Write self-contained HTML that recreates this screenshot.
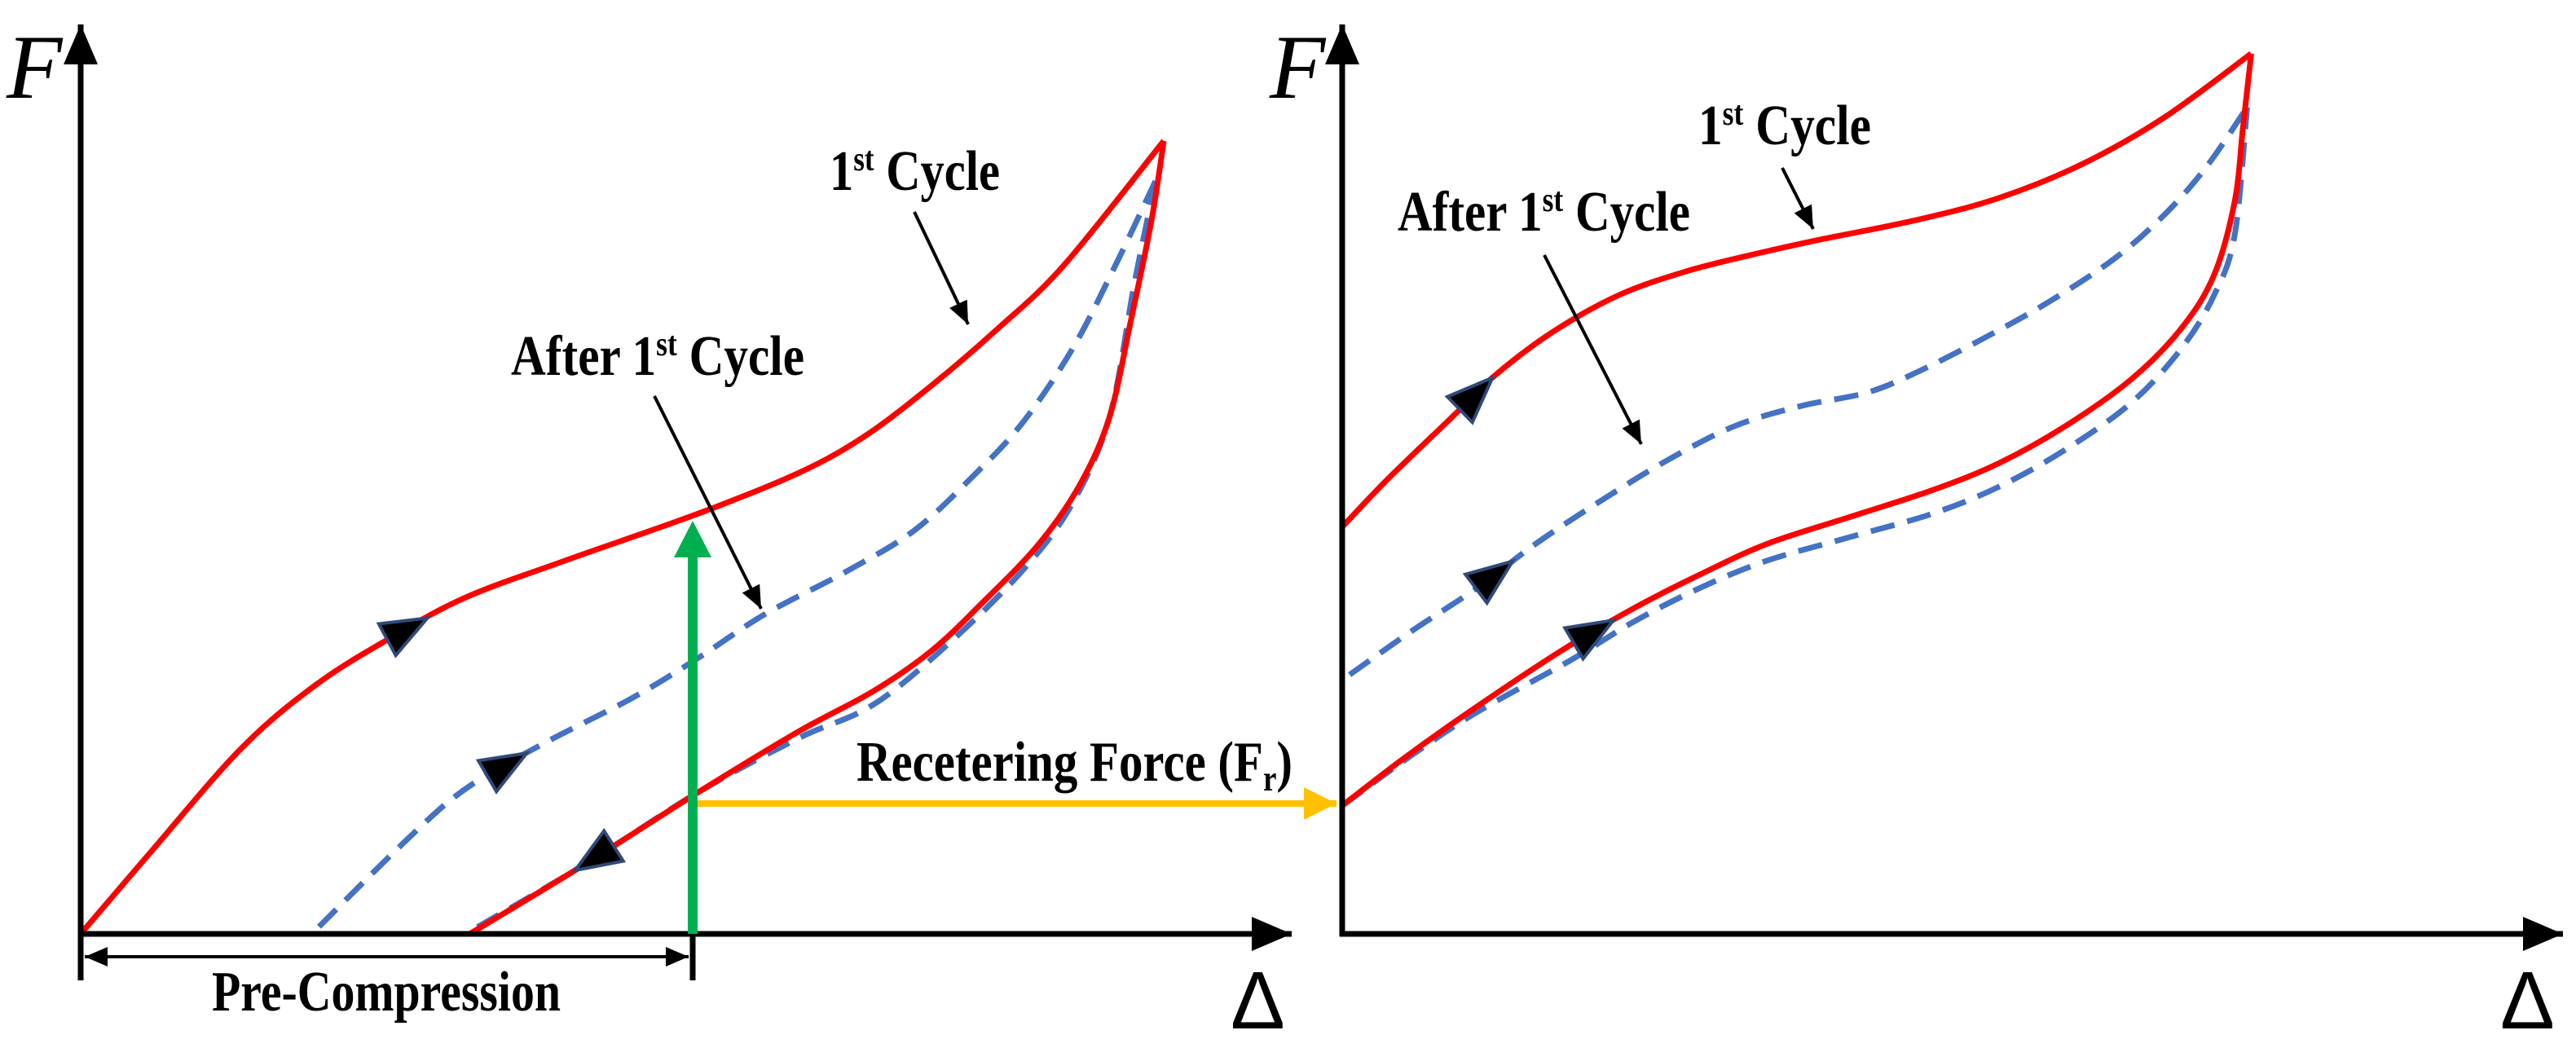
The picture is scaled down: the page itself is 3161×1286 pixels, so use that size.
<!DOCTYPE html>
<html><head><meta charset="utf-8"><style>
html,body{margin:0;padding:0;background:#fff;}
svg{display:block;}
text{font-family:"Liberation Serif",serif;font-weight:bold;fill:#000;}
</style></head><body>
<svg id="chart" width="3161" height="1286" viewBox="0 0 3161 1286" xmlns="http://www.w3.org/2000/svg">
<defs>
<marker id="ah" markerWidth="8" markerHeight="8" refX="7" refY="4" orient="auto" markerUnits="strokeWidth"><path d="M0,1 L7,4 L0,7 Z" fill="#000"/></marker>
<marker id="ahs" markerWidth="8" markerHeight="8" refX="1" refY="4" orient="auto" markerUnits="strokeWidth"><path d="M8,1 L1,4 L8,7 Z" fill="#000"/></marker>
<marker id="aho" markerWidth="5" markerHeight="5" refX="5" refY="2.5" orient="auto" markerUnits="strokeWidth"><path d="M0,0 L5,2.5 L0,5 Z" fill="#FFC000"/></marker>
</defs>
<g id="curves"></g>
<line x1="99" y1="1203" x2="99" y2="30" stroke="#000" stroke-width="7" marker-end="url(#ah)"/>
<line x1="96" y1="1146" x2="1585" y2="1146" stroke="#000" stroke-width="7" marker-end="url(#ah)"/>
<line x1="1647" y1="1149" x2="1647" y2="30" stroke="#000" stroke-width="7" marker-end="url(#ah)"/>
<line x1="1644" y1="1146" x2="3145" y2="1146" stroke="#000" stroke-width="7" marker-end="url(#ah)"/>
<text x="8" y="120" font-size="112" font-style="italic" style="font-weight:normal">F</text>
<text x="1558" y="120" font-size="112" font-style="italic" style="font-weight:normal">F</text>
<text x="1510" y="1262" font-size="100" style="font-family:'Liberation Sans',sans-serif;font-weight:normal">Δ</text>
<text x="3068" y="1262" font-size="100" style="font-family:'Liberation Sans',sans-serif;font-weight:normal">Δ</text>
<line x1="850" y1="1146" x2="850" y2="1203" stroke="#000" stroke-width="7"/>
<line x1="104" y1="1174" x2="845" y2="1174" stroke="#000" stroke-width="4" marker-end="url(#ah)" marker-start="url(#ahs)"/>
<text x="260" y="1240" font-size="70" textLength="428" lengthAdjust="spacingAndGlyphs">Pre-Compression</text>
<line x1="852" y1="986" x2="1640" y2="986" stroke="#FFC000" stroke-width="8" marker-end="url(#aho)"/>
<text x="1051" y="958" font-size="70" textLength="535" lengthAdjust="spacingAndGlyphs">Recetering Force (F<tspan font-size="44" dy="12">r</tspan><tspan dy="-12">)</tspan></text>
<line x1="850" y1="1146" x2="850" y2="680" stroke="#00B050" stroke-width="12"/>
<polygon points="850,639 827,684 873,684" fill="#00B050"/>
<text x="1018" y="233" font-size="70" textLength="209" lengthAdjust="spacingAndGlyphs">1<tspan font-size="42" dy="-24">st</tspan><tspan dy="24"> Cycle</tspan></text>
<line x1="1122" y1="260" x2="1188" y2="398" stroke="#000" stroke-width="4" marker-end="url(#ah)"/>
<text x="627" y="460" font-size="70" textLength="360" lengthAdjust="spacingAndGlyphs">After 1<tspan font-size="42" dy="-24">st</tspan><tspan dy="24"> Cycle</tspan></text>
<line x1="803" y1="486" x2="934" y2="747" stroke="#000" stroke-width="4" marker-end="url(#ah)"/>
<text x="2084" y="177" font-size="70" textLength="212" lengthAdjust="spacingAndGlyphs">1<tspan font-size="42" dy="-24">st</tspan><tspan dy="24"> Cycle</tspan></text>
<line x1="2187" y1="206" x2="2225" y2="281" stroke="#000" stroke-width="4" marker-end="url(#ah)"/>
<text x="1715" y="283" font-size="70" textLength="359" lengthAdjust="spacingAndGlyphs">After 1<tspan font-size="42" dy="-24">st</tspan><tspan dy="24"> Cycle</tspan></text>
<line x1="1895" y1="313" x2="2014" y2="545" stroke="#000" stroke-width="4" marker-end="url(#ah)"/>
</svg>
<script>
const leftRedUpD=[0,83,193,283,373,463,583,743,863,943,1023,1103,1183,1303];
const leftRedUpF=[0,120,276,371,441,501,556,626,686,741,816,901,996,1181];
const leftRedLowD=[1303,1288,1263,1238,1203,1153,1083,1023,953,863,743,603,468];
const leftRedLowF=[1181,1061,911,771,671,581,491,421,361,301,211,101,0];
const leftBlueUpD=[1293,1243,1193,1133,1073,1003,923,823,743,663,553,463,393,278];
const leftBlueUpF=[1121,991,871,761,681,601,541,476,411,351,281,216,141,0];
const leftBlueLowD=[1293,1268,1238,1193,1133,1043,953,863,743,603,463];
const leftBlueLowF=[1121,971,771,641,541,431,341,291,211,101,0];
const rightRedUpD=[0,54,134,184,254,334,414,494,574,694,794,894,994,1099];
const rightRedUpF=[606,676,771,831,896,951,986,1011,1033,1063,1096,1146,1216,1311];
const rightRedVertD=[0,0];
const rightRedVertF=[0,606];
const rightRedLowD=[0,74,154,264,354,434,514,614,714,794,874,954,1014,1054,1079,1089,1099];
const rightRedLowF=[191,261,331,421,486,536,581,621,661,701,756,826,901,981,1091,1201,1311];
const rightBlueUpD=[9,84,164,234,314,394,474,554,634,694,774,854,934,994,1044,1094];
const rightBlueUpF=[386,451,516,581,646,706,756,786,806,836,886,941,1006,1071,1141,1231];
const rightBlueLowD=[0,84,164,274,354,434,514,614,714,794,874,954,1014,1054,1079,1094];
const rightBlueLowF=[191,266,331,406,466,516,556,591,626,666,721,791,871,951,1041,1231];

const lx=d=>99+d*1.02, ly=f=>1146-f*0.824;
const rx=d=>1647+d*1.015, ry=f=>1146-f*0.824;
const NS='http://www.w3.org/2000/svg';
const g=document.getElementById('curves');

function pts(D,F,X,Y){return D.map((d,i)=>[X(d),Y(F[i])]);}
function spline(p){
  if(p.length<3) return 'M'+p.map(q=>q.join(',')).join(' L');
  let s='M'+p[0][0]+','+p[0][1];
  for(let i=0;i<p.length-1;i++){
    const p0=p[Math.max(0,i-1)],p1=p[i],p2=p[i+1],p3=p[Math.min(p.length-1,i+2)];
    const c1=[p1[0]+(p2[0]-p0[0])/6,p1[1]+(p2[1]-p0[1])/6];
    const c2=[p2[0]-(p3[0]-p1[0])/6,p2[1]-(p3[1]-p1[1])/6];
    s+=' C'+c1.join(',')+' '+c2.join(',')+' '+p2.join(',');
  }
  return s;
}
function curve(p,color,dashed,name){
  const el=document.createElementNS(NS,'path');
  el.setAttribute('d',spline(p));
  el.setAttribute('fill','none');
  el.setAttribute('stroke',color);
  el.setAttribute('stroke-width','7');
  if(dashed) el.setAttribute('stroke-dasharray','30 16');
  
  
  g.appendChild(el);
}
function arrowAt(p,xTarget,reverse,name){
  let best=0,bd=1e9;
  for(let i=0;i<p.length-1;i++){const m=(p[i][0]+p[i+1][0])/2;const dd=Math.abs(m-xTarget);if(dd<bd){bd=dd;best=i;}}
  const a=p[best],b=p[best+1];
  const t=Math.max(0,Math.min(1,(xTarget-a[0])/((b[0]-a[0])||1)));
  const c=[a[0]+(b[0]-a[0])*t,a[1]+(b[1]-a[1])*t];
  let dx=b[0]-a[0],dy=b[1]-a[1];const L=Math.hypot(dx,dy);dx/=L;dy/=L;
  if(dx<0){dx=-dx;dy=-dy;}
  if(reverse){dx=-dx;dy=-dy;}
  const tip=[c[0]+dx*28,c[1]+dy*28],bc=[c[0]-dx*28,c[1]-dy*28];
  const nx=-dy,ny=dx,w=22;
  const el=document.createElementNS(NS,'polygon');
  el.setAttribute('points',[tip,[bc[0]+nx*w,bc[1]+ny*w],[bc[0]-nx*w,bc[1]-ny*w]].map(q=>q.join(',')).join(' '));
  el.setAttribute('fill','#000');
  el.setAttribute('stroke','#2F4A7A');
  el.setAttribute('stroke-width','4');
  
  
  g.appendChild(el);
}
const L1=pts(leftRedUpD,leftRedUpF,lx,ly), L2=pts(leftRedLowD,leftRedLowF,lx,ly);
const L3=pts(leftBlueUpD,leftBlueUpF,lx,ly), L4=pts(leftBlueLowD,leftBlueLowF,lx,ly);
const R1=pts(rightRedUpD,rightRedUpF,rx,ry), R0=pts(rightRedVertD,rightRedVertF,rx,ry), R2=pts(rightRedLowD,rightRedLowF,rx,ry);
const R3=pts(rightBlueUpD,rightBlueUpF,rx,ry), R4=pts(rightBlueLowD,rightBlueLowF,rx,ry);
curve(L4,'#4472C4',true,'left-after-cycle-unloading');
curve(L3,'#4472C4',true,'left-after-cycle-loading');
curve(L1,'#FF0000',false,'left-first-cycle-loading');
curve(L2,'#FF0000',false,'left-first-cycle-unloading');
curve(R4,'#4472C4',true,'right-after-cycle-lower');
curve(R3,'#4472C4',true,'right-after-cycle-upper');
curve(R0,'#FF0000',false,'right-first-cycle-vertical');
curve(R1,'#FF0000',false,'right-first-cycle-upper');
curve(R2,'#FF0000',false,'right-first-cycle-lower');
arrowAt(L1,lx(393),false,'left-red-upper-direction');
arrowAt(L3,lx(513),false,'left-blue-direction');
arrowAt(L2,lx(618),true,'left-red-lower-direction');
arrowAt(R1,rx(162),false,'right-red-upper-direction');
arrowAt(R3,rx(184),false,'right-blue-direction');
arrowAt(R2,rx(304),false,'right-red-lower-direction');
</script>
</body></html>
